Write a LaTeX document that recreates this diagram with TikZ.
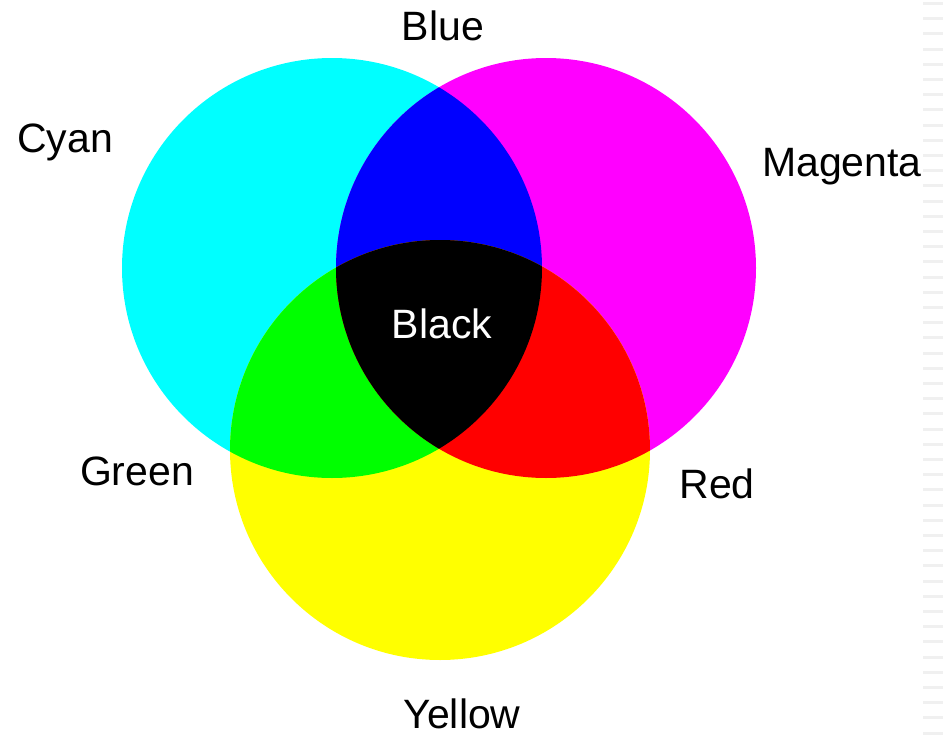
\documentclass[tikz,border=0pt]{standalone}
\usepackage{fontspec}
\setmainfont{Liberation Sans}
\definecolor{cyanC}{RGB}{0,255,255}
\definecolor{magentaC}{RGB}{255,0,255}
\definecolor{yellowC}{RGB}{255,255,0}
\definecolor{blueC}{RGB}{0,0,255}
\definecolor{greenC}{RGB}{0,255,0}
\definecolor{redC}{RGB}{255,0,0}
\definecolor{stripC}{RGB}{240,240,240}
\begin{document}
\begin{tikzpicture}[x=1pt,y=-1pt,
  lbl/.style={anchor=base,inner sep=0pt,font=\fontsize{41}{48}\selectfont,text=black},
  dashmark/.style={fill=stripC,draw=none}]
\useasboundingbox (0,0) rectangle (943,736);
\fill[white] (0,0) rectangle (943,736);
% right-edge strip
\foreach \k in {0,...,48}{
  \fill[dashmark] (923,{2+15.2*\k}) rectangle (943,{5+15.2*\k});
}
\def\cyancirc{(332,268) circle (210)}
\def\magcirc{(546,268) circle (210)}
\def\yelcirc{(440,450) circle (210)}
\fill[cyanC] \cyancirc;
\fill[magentaC] \magcirc;
\fill[yellowC] \yelcirc;
\begin{scope}
  \clip \cyancirc;
  \fill[blueC] \magcirc;
  \fill[greenC] \yelcirc;
\end{scope}
\begin{scope}
  \clip \magcirc;
  \fill[redC] \yelcirc;
\end{scope}
\begin{scope}
  \clip \cyancirc;
  \clip \magcirc;
  \fill[black] \yelcirc;
\end{scope}
\node[lbl] (blue) at (443,40) {Blue};
\node[lbl] (cyan) at (65,152) {Cyan};
\node[lbl] (magenta) at (842,176) {Magenta};
\node[lbl,text=white] (black) at (442,338) {Black};
\node[lbl] (green) at (137,485) {Green};
\node[lbl] (red) at (717,498) {Red};
\node[lbl] (yellow) at (462,728) {Yellow};
\end{tikzpicture}
\end{document}
